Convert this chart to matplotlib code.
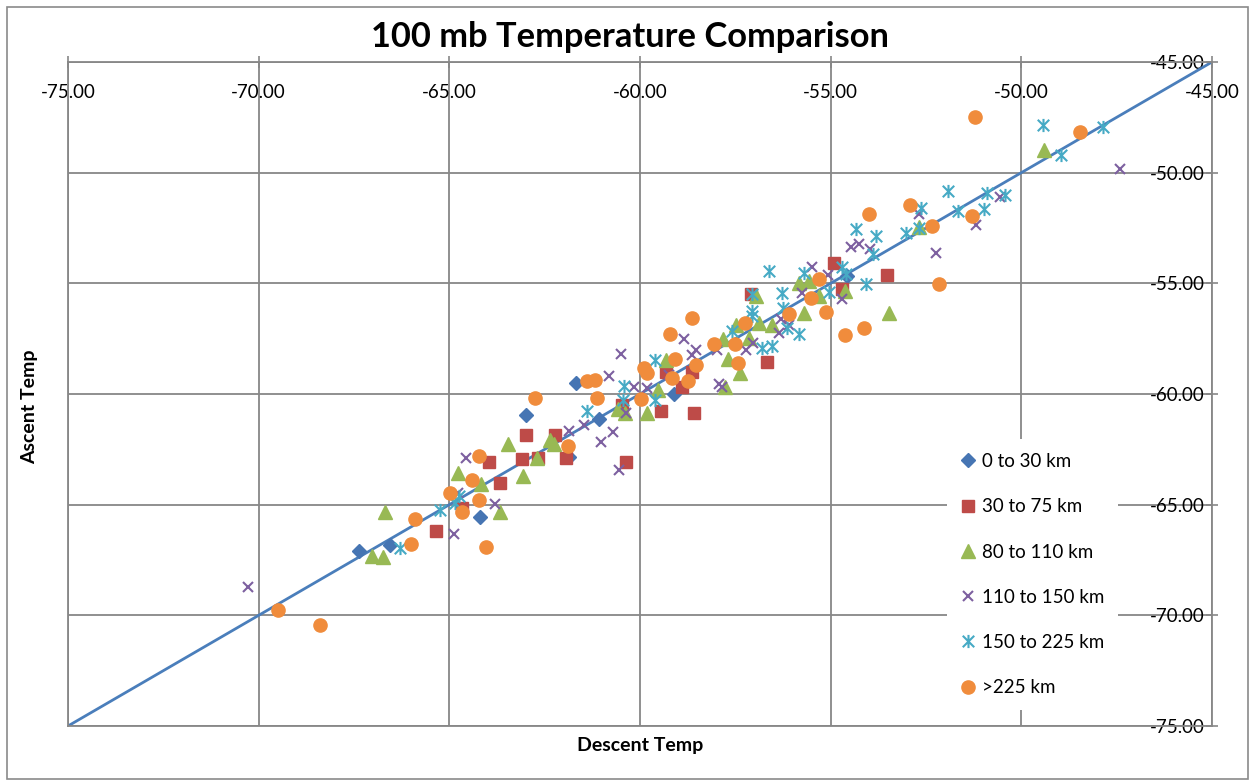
import matplotlib
matplotlib.use("Agg")
import matplotlib.pyplot as plt
from matplotlib.path import Path
from matplotlib.patches import Rectangle

plt.rcParams['font.family'] = ['Lato', 'DejaVu Sans']

# ---------------- data ----------------
ticks = [-75, -70, -65, -60, -55, -50, -45]
tick_labels = [f"{v:.2f}" for v in ticks]
one_to_one = [-75, -45]

s1_name = "0 to 30 km"
s1_x = [-67.37, -66.56, -64.20, -63.00, -61.69, -61.07, -61.86, -59.12, -54.56]
s1_y = [-67.08, -66.81, -65.54, -60.93, -59.49, -61.12, -62.83, -59.99, -54.67]

s2_name = "30 to 75 km"
s2_x = [-65.36, -62.98, -63.95, -63.09, -63.67, -62.23, -62.67, -61.95, -64.66, -60.48,
        -57.09, -56.66, -59.31, -58.64, -58.90, -59.46, -58.58, -60.37, -54.91, -53.53, -54.71]
s2_y = [-66.18, -61.86, -63.07, -62.93, -64.02, -61.86, -62.89, -62.89, -65.15, -60.48,
        -55.47, -58.54, -59.00, -59.01, -59.69, -60.75, -60.85, -63.05, -54.06, -54.64, -55.27]

s3_name = "80 to 110 km"
s3_x = [-66.68, -67.03, -66.74, -64.77, -63.46, -64.17, -63.07, -63.67, -62.71, -62.36,
        -62.26, -60.57, -56.96, -56.88, -56.53, -57.47, -57.82, -57.14, -57.68, -57.39,
        -57.78, -59.31, -59.52, -59.81, -60.39, -55.83, -55.58, -54.62, -55.70, -53.48,
        -55.30, -52.69, -49.40]
s3_y = [-65.33, -67.31, -67.37, -63.57, -62.24, -64.06, -63.69, -65.35, -62.89, -62.06,
        -62.25, -60.70, -55.57, -56.78, -56.90, -56.86, -57.50, -57.46, -58.44, -59.04,
        -59.69, -58.48, -59.80, -60.85, -60.85, -54.97, -54.90, -55.35, -56.33, -56.33,
        -55.57, -52.45, -48.98]

s4_name = "110 to 150 km"
s4_x = [-70.28, -64.88, -64.57, -64.77, -63.81, -61.86, -61.47, -61.03, -60.70, -60.81,
        -60.51, -60.55, -60.16, -59.81, -60.38, -58.85, -58.52, -58.63, -59.24, -57.94,
        -57.84, -57.97, -57.03, -57.23, -56.31, -56.09, -56.35, -55.48, -55.06, -55.74,
        -54.69, -54.47, -54.25, -53.96, -52.69, -52.25, -51.18, -50.55, -47.40]
s4_y = [-68.74, -66.33, -62.89, -64.47, -64.97, -61.68, -61.38, -62.16, -61.71, -59.19,
        -58.21, -63.42, -59.67, -59.72, -60.85, -57.53, -57.99, -58.26, -59.12, -59.57,
        -59.67, -58.03, -57.71, -58.02, -56.60, -56.90, -57.23, -54.24, -54.64, -55.42,
        -55.69, -53.38, -53.23, -53.46, -51.88, -53.61, -52.38, -51.12, -49.84]

s5_name = "150 to 225 km"
s5_x = [-66.30, -65.25, -64.84, -64.75, -61.38, -60.45, -60.42, -59.61, -59.61, -57.58,
        -57.07, -57.05, -57.05, -56.63, -56.79, -56.53, -56.28, -56.25, -56.14, -55.83,
        -55.70, -54.71, -54.60, -55.04, -54.08, -53.90, -54.34, -53.81, -53.03, -52.63,
        -52.69, -51.93, -51.67, -50.97, -50.91, -50.43, -49.42, -48.96, -47.85]
s5_y = [-66.96, -65.23, -64.92, -64.62, -60.78, -60.25, -59.65, -58.48, -60.28, -57.16,
        -56.48, -56.25, -55.50, -54.44, -57.91, -57.84, -55.42, -56.10, -57.00, -57.31,
        -54.52, -54.24, -54.59, -55.39, -55.05, -53.69, -52.56, -52.86, -52.71, -51.58,
        -52.48, -50.82, -51.73, -51.66, -50.90, -51.02, -47.85, -49.21, -47.95]

s6_name = ">225 km"
s6_x = [-69.50, -68.38, -65.89, -66.00, -64.99, -64.66, -64.23, -64.04, -64.40, -64.23,
        -61.88, -62.76, -61.38, -61.17, -61.12, -59.90, -59.81, -59.98, -59.22, -58.64,
        -59.08, -59.17, -58.52, -58.73, -58.06, -57.51, -57.25, -57.42, -56.09, -55.52,
        -55.30, -55.13, -54.62, -54.12, -54.00, -52.91, -52.33, -52.15, -51.22, -48.45,
        -51.30]
s6_y = [-69.75, -70.43, -65.65, -66.78, -64.47, -65.33, -64.80, -66.93, -63.87, -62.81,
        -62.36, -60.20, -59.42, -59.38, -60.17, -58.81, -59.07, -60.22, -57.31, -56.58,
        -58.44, -59.27, -58.67, -59.42, -57.76, -57.76, -56.78, -58.62, -56.40, -55.65,
        -54.82, -56.30, -57.35, -57.00, -51.88, -51.47, -52.41, -55.05, -47.50, -48.15,
        -51.98]

# ---------------- figure ----------------
W, H = 1255, 782
fig = plt.figure(figsize=(W / 100, H / 100), dpi=100)
fig.patch.set_facecolor('white')

L, R, T, B = 68, 1212, 62, 726
ax = fig.add_axes([L / W, 1 - B / H, (R - L) / W, (B - T) / H])
ax.set_xlim(-75, -45)
ax.set_ylim(-75, -45)

grid_c = '#878787'
for sp in ax.spines.values():
    sp.set_color(grid_c)
    sp.set_linewidth(1.3)

ax.set_xticks(ticks)
ax.set_xticklabels(tick_labels)
ax.set_yticks(ticks)
ax.set_yticklabels(tick_labels)
ax.grid(True, color=grid_c, linewidth=1.3)
ax.set_axisbelow(True)

ax.xaxis.set_ticks_position('top')
ax.yaxis.set_ticks_position('right')
ax.tick_params(axis='x', which='both', direction='inout', length=8, width=1.2,
               color=grid_c, labeltop=True, labelbottom=False, pad=-20,
               labelsize=13.5, labelcolor='black')
ax.tick_params(axis='y', which='both', direction='inout', length=8, width=1.2,
               color=grid_c, labelright=True, labelleft=False, pad=-9,
               labelsize=13.5, labelcolor='black')
for t in ax.xaxis.get_major_ticks():
    t.label2.set_va('top')
for t in ax.yaxis.get_major_ticks():
    t.label2.set_ha('right')

# 1:1 line
ax.plot(one_to_one, one_to_one, color='#4A7EBB', linewidth=2.0, zorder=2)

# custom star marker (X + vertical bar)
star_verts = [(-1, -1), (1, 1), (-1, 1), (1, -1), (0, -1.15), (0, 1.15)]
star_codes = [Path.MOVETO, Path.LINETO] * 3
star = Path(star_verts, star_codes)

ax.plot(s1_x, s1_y, linestyle='none', marker='D', ms=7, color='#4675B3',
        mec='#4675B3', label=s1_name, zorder=3)
ax.plot(s2_x, s2_y, linestyle='none', marker='s', ms=8.5, color='#BE4B48',
        mec='#BE4B48', label=s2_name, zorder=3)
ax.plot(s3_x, s3_y, linestyle='none', marker='^', ms=9.8, color='#98B954',
        mec='#98B954', label=s3_name, zorder=3)
ax.plot(s4_x, s4_y, linestyle='none', marker='x', ms=7.5, mew=1.5, color='#7D60A0',
        label=s4_name, zorder=3)
ax.plot(s5_x, s5_y, linestyle='none', marker=star, ms=9.5, mew=1.5, mfc='none',
        color='#46AAC5', mec='#46AAC5', label=s5_name, zorder=3)
ax.plot(s6_x, s6_y, linestyle='none', marker='o', ms=9.5, color='#F08C3C',
        mec='#F08C3C', label=s6_name, zorder=3)

leg = ax.legend(loc='upper left', bbox_to_anchor=(947 / W, 1 - 439 / H),
                bbox_transform=fig.transFigure, frameon=True, fancybox=False,
                edgecolor='none', facecolor='white', framealpha=1.0,
                fontsize=13.5, labelspacing=1.505, handlelength=0.7,
                handletextpad=0.4, borderpad=0.75, borderaxespad=0)
leg.set_zorder(5)

# titles
fig.text(630 / W, 1 - 37 / H, "100 mb Temperature Comparison", ha='center',
         va='center', fontsize=24.8, fontweight='bold')
fig.text(640 / W, 1 - 745 / H, "Descent Temp", ha='center', va='center',
         fontsize=14, fontweight='bold')
fig.text(30 / W, 1 - 407 / H, "Ascent Temp", ha='center', va='center',
         fontsize=14, fontweight='bold', rotation=90)

# chart border
fig.patches.append(Rectangle((7 / W, 3 / H), (1248 - 7) / W, (775 - 3) / H,
                             transform=fig.transFigure, fill=False,
                             edgecolor='#8a8a8a', linewidth=1.2))

fig.savefig("out.png", dpi=100)
